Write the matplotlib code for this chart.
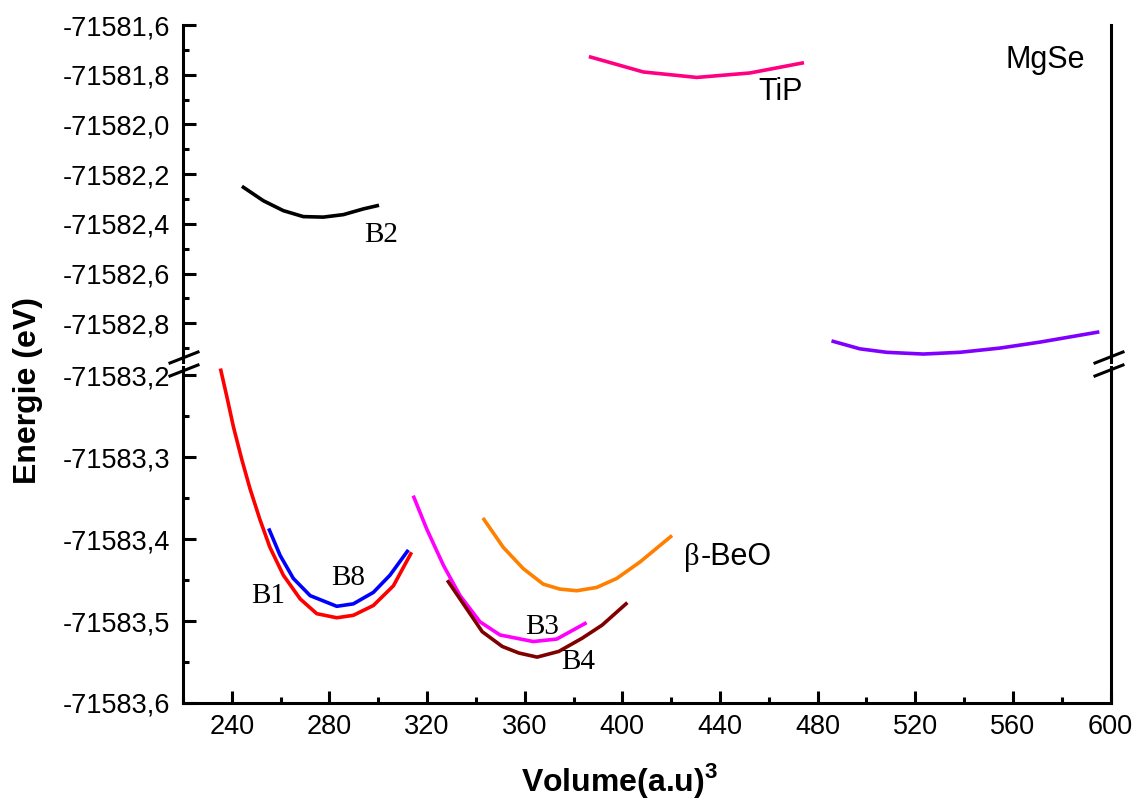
import numpy as np
import matplotlib
matplotlib.use('Agg')
import matplotlib.pyplot as plt
from matplotlib.lines import Line2D
from matplotlib.ticker import MultipleLocator, FuncFormatter

plt.rcParams['font.family'] = 'Liberation Sans'
plt.rcParams['mathtext.fontset'] = 'custom'
plt.rcParams['mathtext.rm'] = 'Liberation Sans'
plt.rcParams['mathtext.bf'] = 'Liberation Sans:bold'

# ---- data (volume in a.u.^3, energy in eV) ----
b1_vol = [235.5, 237.95, 240.66, 244.1, 247.5, 251.5, 255.6, 261.1, 268.0, 274.8, 283.0, 289.8, 298.0, 306.2, 313.3]
b1_e = [-71583.194, -71583.226, -71583.263, -71583.303, -71583.339, -71583.376, -71583.410, -71583.444,
        -71583.473, -71583.491, -71583.496, -71583.493, -71583.481, -71583.457, -71583.418]

b8_vol = [255.4, 259.8, 265.2, 272.1, 283.0, 289.8, 298.0, 304.8, 311.9]
b8_e = [-71583.389, -71583.420, -71583.448, -71583.469, -71583.482, -71583.479, -71583.465, -71583.444, -71583.415]

b3_vol = [314.6, 319.9, 326.7, 333.5, 341.7, 349.9, 363.5, 373.1, 384.7]
b3_e = [-71583.349, -71583.388, -71583.432, -71583.469, -71583.501, -71583.517, -71583.525, -71583.522, -71583.503]

b4_vol = [328.7, 334.4, 342.6, 350.8, 357.6, 365.1, 374.0, 383.5, 391.7, 401.5]
b4_e = [-71583.452, -71583.477, -71583.513, -71583.531, -71583.539, -71583.544, -71583.537, -71583.521,
        -71583.505, -71583.479]

beo_vol = [343.3, 351.2, 359.4, 367.6, 374.4, 381.3, 389.5, 397.7, 407.2, 419.8]
beo_e = [-71583.376, -71583.410, -71583.436, -71583.455, -71583.461, -71583.463, -71583.459, -71583.448,
         -71583.428, -71583.397]

b2_vol = [244.75, 252.9, 261.1, 269.3, 277.5, 285.7, 293.9, 299.6]
b2_e = [-71582.253, -71582.307, -71582.347, -71582.371, -71582.373, -71582.363, -71582.340, -71582.327]

tip_vol = [387.0, 408.6, 430.5, 452.3, 473.7]
tip_e = [-71581.729, -71581.789, -71581.811, -71581.793, -71581.753]

s55_vol = [486.4, 497.3, 508.3, 523.3, 538.3, 554.7, 571.1, 594.7]
s55_e = [-71582.873, -71582.903, -71582.917, -71582.924, -71582.917, -71582.900, -71582.876, -71582.836]

W, H = 1135, 805
fig = plt.figure(figsize=(W / 100, H / 100), dpi=100)

def px_box(x0, y0, x1, y1):
    return [x0 / W, 1 - y1 / H, (x1 - x0) / W, (y1 - y0) / H]

ax_top = fig.add_axes(px_box(183, 25, 1110.5, 362))
ax_bot = fig.add_axes(px_box(183, 367, 1110.5, 703))

lw = 2.6
ax_top.plot(b2_vol, b2_e, color='black', lw=lw)
ax_top.plot(tip_vol, tip_e, color='#FF0080', lw=lw)
ax_top.plot(s55_vol, s55_e, color='#8000FF', lw=lw)

ax_bot.plot(b1_vol, b1_e, color='#FF0000', lw=lw)
ax_bot.plot(b8_vol, b8_e, color='#0000FF', lw=lw)
ax_bot.plot(b3_vol, b3_e, color='#FF00FF', lw=lw)
ax_bot.plot(b4_vol, b4_e, color='#800000', lw=lw)
ax_bot.plot(beo_vol, beo_e, color='#FF8000', lw=lw)

ax_top.set_ylim(-71582.956, -71581.6)
ax_bot.set_ylim(-71583.6, -71583.19)
for ax in (ax_top, ax_bot):
    ax.set_xlim(220, 600)
    ax.spines['top'].set_visible(False)
    for s in ('left', 'right', 'bottom'):
        ax.spines[s].set_linewidth(2.2)
    ax.tick_params(axis='both', which='major', direction='in', length=9, width=2.2, labelsize=19.5)
    ax.tick_params(axis='both', which='minor', direction='in', length=4.5, width=2.2)
    ax.tick_params(axis='y', right=False, which='both')
    ax.xaxis.set_major_locator(MultipleLocator(40))
    ax.xaxis.set_minor_locator(MultipleLocator(20))

ax_top.spines['bottom'].set_visible(False)
ax_top.tick_params(axis='x', which='both', bottom=False, labelbottom=False)

fmt = FuncFormatter(lambda v, p: f"{v:.1f}".replace('.', ','))
ax_top.yaxis.set_major_locator(MultipleLocator(0.2))
ax_top.yaxis.set_minor_locator(MultipleLocator(0.1))
ax_top.yaxis.set_major_formatter(fmt)
ax_bot.yaxis.set_major_locator(MultipleLocator(0.1))
ax_bot.yaxis.set_minor_locator(MultipleLocator(0.05))
ax_bot.yaxis.set_major_formatter(fmt)
ax_bot.tick_params(axis='x', pad=8)
ax_top.tick_params(axis='y', pad=9)
ax_bot.tick_params(axis='y', pad=9)

# break marks on both y spines
for xc in (184, 1109):
    for yc in (357.5, 370.5):
        fig.add_artist(Line2D([(xc - 14) / W, (xc + 14) / W],
                              [1 - (yc + 5.5) / H, 1 - (yc - 5.5) / H],
                              color='black', lw=2.2, transform=fig.transFigure))

# curve labels
serif = 'Liberation Serif'
ax_top.text(573.1, -71581.74, 'MgSe', fontsize=22, ha='center', va='center')
ax_top.text(465.0, -71581.868, 'TiP', fontsize=22, ha='center', va='center')
ax_top.text(301.2, -71582.444, 'B2', fontsize=21, family=serif, ha='center', va='center')
ax_top.text(494.1, -71583.028, '5\u20135', fontsize=21, family=serif, ha='center', va='center')
ax_bot.text(425.3, -71583.422, '\u03b2', fontsize=22, family=serif, ha='left', va='center')
ax_bot.text(432.2, -71583.422, '-BeO', fontsize=22, ha='left', va='center')
ax_bot.text(255.0, -71583.4695, 'B1', fontsize=21, family=serif, ha='center', va='center')
ax_bot.text(287.6, -71583.4476, 'B8', fontsize=21, family=serif, ha='center', va='center')
ax_bot.text(367.1, -71583.5073, 'B3', fontsize=21, family=serif, ha='center', va='center')
ax_bot.text(381.8, -71583.55, 'B4', fontsize=21, family=serif, ha='center', va='center')

fig.text(28 / W, 1 - 390 / H, 'Energie (eV)', rotation=90, fontsize=23, fontweight='bold',
         ha='center', va='center')
fig.text(620 / W, 1 - 780 / H, r'Volume(a.u)$^\mathbf{3}$', fontsize=23, fontweight='bold',
         ha='center', va='center')

fig.savefig('out.png', dpi=100)
